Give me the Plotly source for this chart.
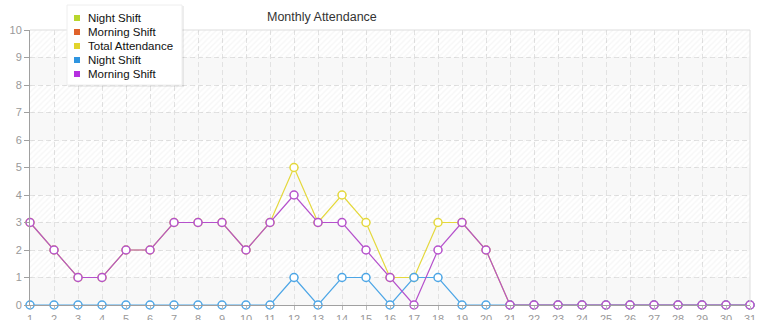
import plotly.graph_objects as go

days = [1, 2, 3, 4, 5, 6, 7, 8, 9, 10, 11, 12, 13, 14, 15, 16, 17, 18, 19, 20,
        21, 22, 23, 24, 25, 26, 27, 28, 29, 30, 31]
morning_shift = [3, 2, 1, 1, 2, 2, 3, 3, 3, 2, 3, 4, 3, 3, 2, 1, 0, 2, 3, 2,
                 0, 0, 0, 0, 0, 0, 0, 0, 0, 0, 0]
night_shift = [0, 0, 0, 0, 0, 0, 0, 0, 0, 0, 0, 1, 0, 1, 1, 0, 1, 1, 0, 0,
               0, 0, 0, 0, 0, 0, 0, 0, 0, 0, 0]
total_attendance = [3, 2, 1, 1, 2, 2, 3, 3, 3, 2, 3, 5, 3, 4, 3, 1, 1, 3, 3, 2,
                    0, 0, 0, 0, 0, 0, 0, 0, 0, 0, 0]
legend_names = ["Night Shift", "Morning Shift", "Total Attendance", "Night Shift", "Morning Shift"]
legend_colors = ["#b8d62c", "#e0622a", "#e2d42c", "#2f95e0", "#b52fe0"]
y_ticks = [0, 1, 2, 3, 4, 5, 6, 7, 8, 9, 10]
title_text = "Monthly Attendance"

W, H = 765, 320
ML, MR, MT, MB = 30, 15, 30, 15
PW, PH = W - ML - MR, H - MT - MB
FONT = "Liberation Sans"


def px_x(px):
    return (px - ML) / PW


def px_y(py):
    return (H - MB - py) / PH


fig = go.Figure()

# hatched background bands
fig.add_trace(go.Bar(
    x=[16] * 5, y=[1] * 5, base=[9, 7, 5, 3, 1], width=30,
    marker=dict(color="rgba(0,0,0,0)", line=dict(width=0),
                pattern=dict(shape="/", size=4, solidity=0.3,
                             fgcolor="rgba(0,0,0,0.07)", bgcolor="rgba(0,0,0,0)")),
    hoverinfo="skip", showlegend=False,
))

series = [
    (total_attendance, "Total Attendance", "#e4d83c"),
    (night_shift, "Night Shift", "#4da6e6"),
    (morning_shift, "Morning Shift", "#b551cc"),
]
for vals, name, col in series:
    fig.add_trace(go.Scatter(
        x=days, y=vals, name=name, mode="lines+markers",
        line=dict(color=col, width=1.2),
        marker=dict(symbol="circle", size=8, color="white", line=dict(color=col, width=1.5)),
        cliponaxis=False, showlegend=False,
    ))

shapes = []
# plain light bands
for b in [0, 2, 4, 6, 8]:
    shapes.append(dict(type="rect", xref="x", yref="y", x0=1, x1=31, y0=b, y1=b + 1,
                       fillcolor="#f8f8f8", line=dict(width=0), layer="below"))
# top and right borders
shapes.append(dict(type="line", xref="paper", yref="paper", x0=0, x1=1, y0=1, y1=1,
                   line=dict(color="#dddddd", width=1)))
shapes.append(dict(type="line", xref="paper", yref="paper", x0=1, x1=1, y0=0, y1=1,
                   line=dict(color="#dddddd", width=1)))

# manual legend box
lx0, lx1, ly0, ly1 = 67, 182, 5, 85
shapes.append(dict(type="rect", xref="paper", yref="paper",
                   x0=px_x(lx0 + 1), x1=px_x(lx1 + 2), y0=px_y(ly1 + 2), y1=px_y(ly0 + 1),
                   fillcolor="rgba(0,0,0,0.07)", line=dict(width=0)))
shapes.append(dict(type="rect", xref="paper", yref="paper",
                   x0=px_x(lx0), x1=px_x(lx1), y0=px_y(ly1), y1=px_y(ly0),
                   fillcolor="white", line=dict(color="#eeeeee", width=1)))
annotations = []
for i, (nm, col) in enumerate(zip(legend_names, legend_colors)):
    cy = 18 + 14 * i
    shapes.append(dict(type="rect", xref="paper", yref="paper",
                       x0=px_x(74), x1=px_x(80), y0=px_y(cy + 3), y1=px_y(cy - 3),
                       fillcolor=col, line=dict(width=0)))
    annotations.append(dict(xref="paper", yref="paper", x=px_x(86), y=px_y(cy),
                            text=nm, showarrow=False, xanchor="left", yanchor="middle",
                            font=dict(family=FONT, size=11.5, color="#111111")))

annotations.append(dict(xref="paper", yref="paper", x=px_x(322), y=px_y(17),
                        text=title_text, showarrow=False, xanchor="center", yanchor="middle",
                        font=dict(family=FONT, size=12.5, color="#333333")))

fig.update_layout(
    width=W, height=H,
    margin=dict(l=ML, r=MR, t=MT, b=MB, autoexpand=False),
    paper_bgcolor="white", plot_bgcolor="white",
    showlegend=False, bargap=0,
    shapes=shapes, annotations=annotations,
    font=dict(family=FONT, size=11, color="#999999"),
)
fig.update_xaxes(
    range=[1, 31], tickmode="array", tickvals=days, ticktext=[str(d) for d in days],
    showgrid=True, gridcolor="#e2e2e2", griddash="5px,3px", gridwidth=1,
    showline=True, linecolor="#a0a0a0", linewidth=1,
    ticks="outside", ticklen=4, tickcolor="#bbbbbb",
    zeroline=False, automargin=False, fixedrange=True,
    tickfont=dict(family=FONT, size=11, color="#999999"),
)
fig.update_yaxes(
    range=[0, 10], tickmode="array", tickvals=y_ticks,
    showgrid=True, gridcolor="#e2e2e2", griddash="5px,3px", gridwidth=1,
    showline=True, linecolor="#a0a0a0", linewidth=1,
    ticks="outside", ticklen=5, tickcolor="#a0a0a0",
    zeroline=False, automargin=False, fixedrange=True,
    tickfont=dict(family=FONT, size=11, color="#999999"),
)

fig.write_html("out.html")
